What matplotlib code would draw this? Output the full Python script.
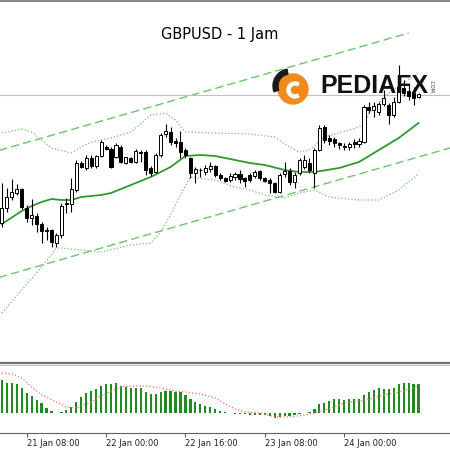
import numpy as np
import matplotlib.pyplot as plt
from matplotlib.patches import Circle, Wedge

# GBPUSD hourly candles, 21 Jan 03:00 .. 24 Jan 15:00
opens = [1.2377, 1.2392, 1.2403, 1.2407, 1.2411, 1.2392, 1.2382, 1.2384, 1.2376, 1.2370,
         1.2370, 1.2357, 1.2365, 1.2397, 1.2396, 1.2410, 1.2437, 1.2432, 1.2442, 1.2434,
         1.2444, 1.2453, 1.2451, 1.2443, 1.2453, 1.2437, 1.2442, 1.2438, 1.2448, 1.2448,
         1.2432, 1.2428, 1.2445, 1.2466, 1.2468, 1.2459, 1.2458, 1.2450, 1.2442, 1.2427,
         1.2430, 1.2428, 1.2431, 1.2434, 1.2425, 1.2422, 1.2420, 1.2423, 1.2426, 1.2422,
         1.2425, 1.2424, 1.2429, 1.2422, 1.2420, 1.2417, 1.2408, 1.2426, 1.2429, 1.2418,
         1.2427, 1.2433, 1.2437, 1.2427, 1.2450, 1.2473, 1.2462, 1.2461, 1.2457, 1.2454,
         1.2453, 1.2458, 1.2456, 1.2458, 1.2493, 1.2490, 1.2488, 1.2496, 1.2495, 1.2485,
         1.2498, 1.2512, 1.2509, 1.2507, 1.2503]
highs = [1.2417, 1.2412, 1.2421, 1.2416, 1.2412, 1.2395, 1.2401, 1.2387, 1.2378, 1.2373,
         1.2371, 1.2367, 1.2397, 1.2402, 1.2422, 1.2440, 1.2439, 1.2445, 1.2445, 1.2445,
         1.2460, 1.2455, 1.2453, 1.2457, 1.2455, 1.2443, 1.2443, 1.2451, 1.2450, 1.2450,
         1.2434, 1.2447, 1.2467, 1.2476, 1.2473, 1.2462, 1.2469, 1.2452, 1.2443, 1.2433,
         1.2432, 1.2435, 1.2438, 1.2435, 1.2427, 1.2423, 1.2427, 1.2428, 1.2430, 1.2423,
         1.2427, 1.2430, 1.2430, 1.2423, 1.2422, 1.2418, 1.2427, 1.2438, 1.2432, 1.2428,
         1.2442, 1.2445, 1.2442, 1.2452, 1.2475, 1.2475, 1.2465, 1.2463, 1.2458, 1.2457,
         1.2458, 1.2461, 1.2462, 1.2495, 1.2498, 1.2498, 1.2498, 1.2510, 1.2497, 1.2503,
         1.2535, 1.2520, 1.2515, 1.2513, 1.2507]
lows = [1.2373, 1.2388, 1.2400, 1.2405, 1.2391, 1.2378, 1.2375, 1.2368, 1.2357, 1.2360,
        1.2353, 1.2353, 1.2362, 1.2387, 1.2388, 1.2408, 1.2432, 1.2430, 1.2432, 1.2432,
        1.2443, 1.2450, 1.2432, 1.2442, 1.2437, 1.2436, 1.2437, 1.2437, 1.2438, 1.2425,
        1.2424, 1.2427, 1.2443, 1.2463, 1.2455, 1.2453, 1.2442, 1.2442, 1.2422, 1.2417,
        1.2423, 1.2425, 1.2428, 1.2423, 1.2420, 1.2418, 1.2418, 1.2420, 1.2417, 1.2413,
        1.2418, 1.2422, 1.2420, 1.2418, 1.2407, 1.2407, 1.2407, 1.2423, 1.2415, 1.2412,
        1.2425, 1.2431, 1.2427, 1.2412, 1.2449, 1.2457, 1.2455, 1.2453, 1.2451, 1.2450,
        1.2450, 1.2452, 1.2453, 1.2457, 1.2487, 1.2483, 1.2485, 1.2494, 1.2476, 1.2483,
        1.2497, 1.2504, 1.2500, 1.2495, 1.2502]
closes = [1.2392, 1.2403, 1.2408, 1.2411, 1.2393, 1.2382, 1.2385, 1.2376, 1.2369, 1.2369,
          1.2358, 1.2365, 1.2394, 1.2396, 1.2411, 1.2437, 1.2433, 1.2442, 1.2434, 1.2444,
          1.2458, 1.2451, 1.2433, 1.2455, 1.2438, 1.2443, 1.2438, 1.2449, 1.2447, 1.2430,
          1.2427, 1.2445, 1.2465, 1.2469, 1.2458, 1.2457, 1.2448, 1.2445, 1.2427, 1.2431,
          1.2430, 1.2432, 1.2434, 1.2425, 1.2422, 1.2419, 1.2424, 1.2426, 1.2421, 1.2419,
          1.2420, 1.2428, 1.2422, 1.2419, 1.2417, 1.2408, 1.2425, 1.2429, 1.2418, 1.2425,
          1.2440, 1.2440, 1.2430, 1.2450, 1.2472, 1.2460, 1.2459, 1.2457, 1.2455, 1.2453,
          1.2456, 1.2456, 1.2459, 1.2493, 1.2490, 1.2494, 1.2496, 1.2502, 1.2485, 1.2498,
          1.2513, 1.2507, 1.2504, 1.2502, 1.25055]

# Bollinger bands (at selected bars)
ma_idx = [0, 4, 6, 8, 10, 12, 14, 16, 20, 22, 26, 30, 34, 37, 40, 43, 47, 50, 53, 57, 60, 63, 68, 72, 76, 80, 84]
ma_val = [1.2376, 1.2389, 1.2394, 1.2398, 1.2401, 1.2400, 1.2400, 1.2403, 1.2405, 1.2407, 1.2415, 1.2423,
          1.2433, 1.2444, 1.2445, 1.2444, 1.2440, 1.2437, 1.2435, 1.2430, 1.2428, 1.2428, 1.2432, 1.2438,
          1.2450, 1.2462, 1.2477]
up_idx = [0, 4, 6, 8, 10, 14, 16, 18, 22, 26, 30, 33, 35, 37, 43, 50, 55, 58, 60, 62, 65, 70, 73, 74, 78, 81, 84]
up_val = [1.2467, 1.2471, 1.2468, 1.2460, 1.2452, 1.2447, 1.2453, 1.2458, 1.2462, 1.2468, 1.2485, 1.2487,
          1.2480, 1.2468, 1.2467, 1.2466, 1.2463, 1.2453, 1.2448, 1.2450, 1.2463, 1.2470, 1.2475, 1.2487,
          1.2507, 1.2517, 1.2527]
lo_idx = [0, 4, 8, 11, 12, 16, 20, 26, 30, 32, 34, 36, 38, 43, 47, 50, 53, 57, 60, 63, 66, 72, 76, 80, 84]
lo_val = [1.2287, 1.2310, 1.2333, 1.2352, 1.2352, 1.2350, 1.2348, 1.2355, 1.2357, 1.2368, 1.2385, 1.2405,
          1.2423, 1.2420, 1.2413, 1.2410, 1.2405, 1.2402, 1.2407, 1.2410, 1.2403, 1.2400, 1.2400, 1.2410,
          1.2426]

# channel trend lines (bar index, price)
chan_up_x, chan_up_y = [-1, 82], [1.2449, 1.2567]
chan_lo_x, chan_lo_y = [-1, 91], [1.2322, 1.2453]

# MACD histogram and signal (points)
macd = [32.5, 29.5, 29.5, 28.5, 24.5, 19.5, 16.5, 12.5, 9.5, 4.5,
        1.5, -0.5, 0.5, 2.5, 5.5, 10.5, 15.5, 19.5, 21.5, 23.5,
        26.5, 28.5, 28.5, 29.5, 26.5, 25.5, 24.5, 24.5, 24.5, 20.5,
        18.5, 18.5, 20.5, 21.5, 21.5, 20.5, 20.5, 17.5, 13.5, 10.5,
        8.5, 6.5, 5.5, 3.5, 1.5, 0.5, -0.5, -1, -1.5, -1.5,
        -2, -2, -2.5, -2.5, -3.5, -5, -4, -3.5, -3, -2.5,
        -1.5, -0.5, 0.5, 3.5, 8.5, 9.5, 11.5, 13.5, 13.5, 12.5,
        13.5, 13.5, 13.5, 17.5, 20.5, 22.5, 24.5, 23.5, 23.5, 24.5,
        28.5, 29.5, 29.5, 28.5, 28.5]
sig_idx = [0, 2, 4, 6, 8, 11, 13, 15, 18, 20, 22, 24, 26, 29, 32, 35, 37, 40, 43, 45, 47, 49,
           52, 55, 58, 61, 63, 65, 67, 69, 72, 75, 77, 80, 83, 84]
sig_val = [39.5, 38.5, 34.5, 25.5, 17.5, 10.5, 5.5, 4.5, 10.5, 16.5, 21.5, 25.5, 26.5, 26.5, 24.5,
           21.5, 20.5, 18.5, 14.5, 8.5, 3.5, 0.5, -0.5, -4.5, -4.5, -2.5, -0.5, 2.5, 5.5, 9.5,
           11.5, 14.5, 17.5, 20.5, 24.5, 27.5]

tick_idx = [5, 21, 37, 53, 69]
tick_lbl = ['21 Jan 08:00', '22 Jan 00:00', '22 Jan 16:00', '23 Jan 08:00', '24 Jan 00:00']

opens, highs, lows, closes = map(np.array, (opens, highs, lows, closes))
x = np.arange(len(opens))

fig = plt.figure(figsize=(4.5, 4.5), dpi=100)
ax = fig.add_axes([0, 87 / 450, 1, 362 / 450])
ax2 = fig.add_axes([0, 17 / 450, 1, 68 / 450])

# main price panel
green_l = '#6cc46c'
ax.plot(chan_up_x, chan_up_y, color=green_l, lw=1, dashes=(6, 3))
ax.plot(chan_lo_x, chan_lo_y, color=green_l, lw=1, dashes=(6, 3))
ax.axhline(closes[-1], color='#c0c0c0', lw=0.8)
ax.plot(up_idx, up_val, color=green_l, lw=0.9, ls=':')
ax.plot(lo_idx, lo_val, color=green_l, lw=0.9, ls=':')
ax.plot(ma_idx, ma_val, color='#2f9a2f', lw=1.3)

up = closes >= opens
ax.vlines(x, lows, highs, color='black', lw=0.8, zorder=3)
ax.bar(x, np.abs(closes - opens), bottom=np.minimum(opens, closes), width=0.62,
       color=np.where(up, 'white', 'black'), edgecolor='black', linewidth=0.7, zorder=4)

ax.set_xlim(-0.383, 90.34)
ax.set_ylim(1.2237, 1.2599)
ax.set_xticks([])
ax.set_yticks([])
for s in ['left', 'right']:
    ax.spines[s].set_visible(False)
ax.spines['top'].set_color('#707070')
ax.spines['top'].set_linewidth(1.2)
ax.spines['bottom'].set_color('#707070')
ax.spines['bottom'].set_linewidth(1.6)

# indicator panel
ax2.bar(x, macd, width=0.45, color='#1e8c1e', zorder=2)
ax2.plot(sig_idx, sig_val, color='#ff6b6b', lw=0.9, ls=':', zorder=3)
ax2.set_xlim(-0.383, 90.34)
ax2.set_ylim(-20.5, 47.5)
ax2.set_yticks([])
ax2.set_xticks(tick_idx)
ax2.set_xticklabels(tick_lbl, fontsize=6, ha='left', color='#202020')
ax2.tick_params(axis='x', length=3, width=0.8, color='#606060', pad=1.5)
for s in ['left', 'right']:
    ax2.spines[s].set_visible(False)
ax2.spines['top'].set_color('#c0c0c0')
ax2.spines['bottom'].set_color('#606060')

# title and logo
fig.text(0.489, 1 - 35 / 450, 'GBPUSD - 1 Jam', ha='center', va='center', fontsize=10.5)
fig.patches.append(Circle((293 / 450, 1 - 89 / 450), 15 / 450, transform=fig.transFigure,
                          color='#f28a1e', zorder=5))
fig.patches.append(Wedge((290 / 450, 1 - 86 / 450), 17 / 450, 100, 200, width=5 / 450,
                         transform=fig.transFigure, color='#1a1a1a', zorder=6))
fig.patches.append(Wedge((295 / 450, 1 - 90 / 450), 8 / 450, 60, 300, width=3 / 450,
                         transform=fig.transFigure, color='white', zorder=6))
fig.text(320 / 450, 1 - 86 / 450, 'PEDIAFX', ha='left', va='center', fontsize=18,
         fontweight='bold', family='Liberation Sans', color='#111111', zorder=7)
fig.text(431 / 450, 1 - 86 / 450, '.COM', ha='center', va='center', fontsize=3.5,
         rotation=-90, color='#333333')

fig.savefig('out.png', dpi=100)
